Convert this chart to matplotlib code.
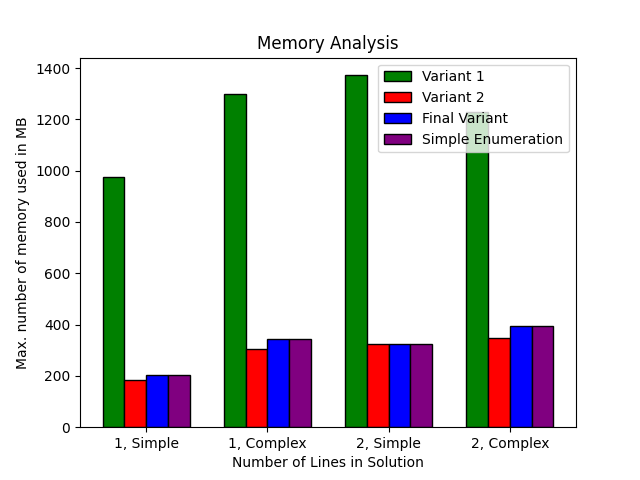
import numpy as np
import matplotlib
matplotlib.use("Agg")
import matplotlib.pyplot as plt

categories = ["1, Simple", "1, Complex", "2, Simple", "2, Complex"]
variant1 = [975, 1300, 1372, 1230]
variant2 = [183, 305, 323, 347]
final_variant = [204, 344, 323, 394]
simple_enum = [204, 344, 323, 394]

x = np.arange(len(categories))
w = 0.18

fig, ax = plt.subplots(figsize=(6.4, 4.8), dpi=100)
ax.bar(x - 1.5 * w, variant1, w, color="green", edgecolor="black", label="Variant 1")
ax.bar(x - 0.5 * w, variant2, w, color="red", edgecolor="black", label="Variant 2")
ax.bar(x + 0.5 * w, final_variant, w, color="blue", edgecolor="black", label="Final Variant")
ax.bar(x + 1.5 * w, simple_enum, w, color="purple", edgecolor="black", label="Simple Enumeration")

ax.set_xticks(x)
ax.set_xticklabels(categories)
ax.set_xlabel("Number of Lines in Solution")
ax.set_ylabel("Max. number of memory used in MB")
ax.set_title("Memory Analysis")
ax.legend(loc="upper right")

fig.savefig("out.png")
